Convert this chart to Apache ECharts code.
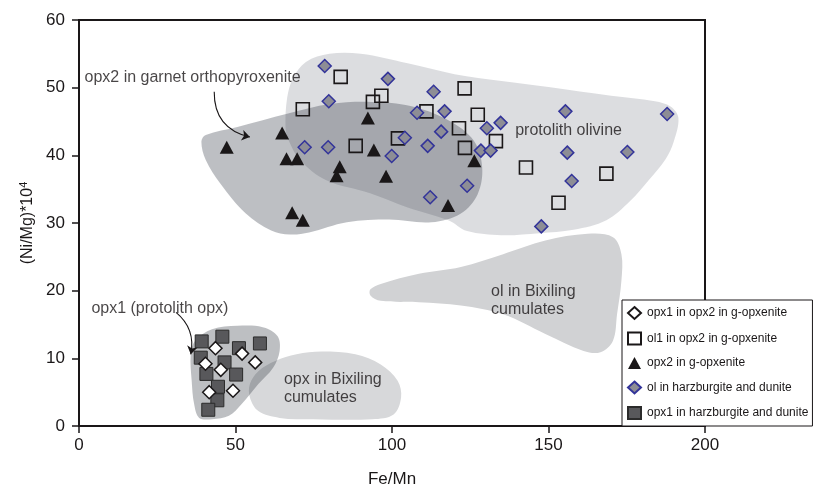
<!DOCTYPE html>
<html><head><meta charset="utf-8">
<script src="https://cdn.jsdelivr.net/npm/echarts@6/dist/echarts.min.js"></script>
<style>html,body{margin:0;padding:0;background:#fff}#c{width:814px;height:487px}</style>
</head><body><div id="c"></div>
<script>
// ---- data ----
const xTicks = [0, 50, 100, 150, 200];
const yTicks = [0, 10, 20, 30, 40, 50, 60];
const seriesNames = ['opx1 in opx2 in g-opxenite', 'ol1 in opx2 in g-opxenite', 'opx2 in g-opxenite', 'ol in harzburgite and dunite', 'opx1 in harzburgite and dunite'];

const opx1InOpx2 = [[43.6,11.5],[52.1,10.7],[40.4,9.2],[45.3,8.3],[56.3,9.4],[41.6,5.0],[49.2,5.2]];
const ol1InOpx2 = [[83.6,51.6],[71.5,46.8],[93.9,47.9],[96.6,48.8],[111.0,46.5],[123.2,49.9],[127.4,46.0],[121.4,44.0],[88.4,41.4],[101.9,42.5],[123.3,41.1],[133.2,42.1],[142.8,38.2],[168.5,37.3],[153.2,33.0]];
const opx2 = [[47.2,41.2],[64.9,43.3],[66.3,39.5],[69.7,39.5],[92.3,45.5],[94.2,40.8],[83.3,38.3],[82.3,37.0],[98.1,36.9],[68.1,31.5],[71.5,30.4],[117.9,32.6],[126.3,39.2]];
const olHarz = [[78.5,53.2],[98.7,51.3],[79.8,48.0],[113.3,49.4],[108.0,46.3],[116.8,46.5],[130.3,44.0],[134.7,44.8],[115.7,43.5],[104.1,42.6],[72.1,41.2],[79.6,41.2],[99.9,39.9],[111.4,41.4],[128.4,40.7],[131.5,40.7],[124.0,35.5],[112.2,33.8],[155.4,46.5],[156.0,40.4],[157.4,36.2],[175.2,40.5],[147.7,29.5],[187.9,46.1]];
const opx1Harz = [[39.2,12.5],[45.8,13.2],[51.1,11.5],[57.8,12.2],[38.9,10.1],[46.5,9.4],[40.7,7.7],[50.2,7.6],[44.4,5.8],[44.2,3.8],[41.3,2.4]];

// field outlines
const regionProtolithOl = [[66.0,44.0],[66.5,48.5],[68.5,51.5],[72.5,53.8],[80,55.0],[90,55.0],[105,53.6],[120,52.0],[135,51.0],[150,50.1],[170,48.8],[184,48.0],[189,47.2],[191.5,45.5],[190,42],[187.5,39.5],[182,36.3],[176,33.2],[168.5,30.4],[158,29.0],[147,28.5],[135,28.2],[124,28.8],[118,30.4],[105,32.3],[93,34.4],[79,36.3],[70.6,39.3],[67,42.2]];
const regionOpx2 = [[39.1,42.0],[40.5,43.0],[50.6,44.2],[66.8,46.2],[80.2,47.6],[93.7,47.9],[105.9,47.3],[118.0,45.2],[126.1,42.2],[128.8,38.3],[127.4,34.3],[122.0,31.4],[112.6,30.1],[99.1,30.5],[85.6,30.1],[73.5,28.6],[67.4,28.3],[61.4,28.9],[53.3,31.4],[45.2,35.8],[40.5,39.3]];
const regionOlBix = [[93.1,20.2],[96.4,21.0],[108.6,22.5],[122.0,23.5],[135.5,25.4],[149.0,27.4],[162.5,28.4],[170.6,27.9],[173.3,25.4],[173.3,21.5],[171.9,16.5],[170.6,12.6],[166.6,10.9],[161.2,11.1],[149.0,13.6],[135.5,16.5],[122.0,17.8],[108.6,18.3],[96.4,18.5],[93.1,19.3]];
const regionOpxBix = [[54.6,6.2],[57.3,8.1],[62.7,9.6],[69.5,10.6],[77.5,11.0],[88.3,10.6],[96.4,9.1],[101.8,6.7],[102.9,4.2],[100.5,1.7],[93.7,1.0],[74.8,1.0],[64.1,1.2],[57.3,2.2],[54.6,4.2]];
const regionOpx1 = [[37.1,12.6],[42.5,14.3],[50.6,14.8],[58.7,14.6],[63.4,13.3],[64.1,11.1],[62.0,8.6],[57.3,6.2],[51.9,3.2],[47.9,1.5],[42.5,1.0],[38.4,1.2],[36.8,3.2],[36.0,6.7],[35.7,10.6]];

// annotations
const labels = [[1.6,51.5,'opx2 in garnet orthopyroxenite'],[139.2,43.6,'protolith olivine'],[131.5,18.6,'ol in Bixiling\ncumulates'],[3.8,17.3,'opx1 (protolith opx)'],[65.3,5.6,'opx in Bixiling\ncumulates']];
const arrows = [[[43.2,49.4],[54.6,42.7]],[[31.0,16.8],[35.7,10.6]]];
const arrowCurve = [-0.4, 0.3];

// ---- chart ----
const FONT = "'Liberation Sans', Arial, Helvetica, sans-serif";
const INK = '#1a1718';
const chart = echarts.init(document.getElementById('c'), null, {renderer: 'canvas'});

function regionSeries(pts, fill) {
  return {
    type: 'custom', coordinateSystem: 'cartesian2d', silent: true, z: 1,
    data: pts, encode: {x: 0, y: 1},
    renderItem: function (params, api) {
      if (params.dataIndex !== 0) return null;
      const points = pts.map(p => api.coord(p));
      return {type: 'polygon', shape: {points: points, smooth: 0.35}, style: {fill: fill, stroke: null}};
    }
  };
}

function scatter(name, data, symbol, size, itemStyle) {
  return {
    type: 'scatter', name: name, data: data, symbol: symbol, symbolSize: size,
    itemStyle: Object.assign({opacity: 1}, itemStyle), z: 3, silent: true, emphasis: {disabled: true}
  };
}

chart.setOption({
  animation: false,
  textStyle: {fontFamily: FONT, color: INK},
  grid: {left: 79, right: 109, top: 20, bottom: 61, show: true, borderColor: INK, borderWidth: 2,
    backgroundColor: 'transparent', containLabel: false, outerBoundsMode: 'none'},
  xAxis: {
    type: 'value', min: xTicks[0], max: xTicks[xTicks.length - 1], interval: 50,
    name: 'Fe/Mn', nameLocation: 'middle', nameGap: 45,
    nameTextStyle: {fontSize: 17, color: INK, fontFamily: FONT},
    axisLine: {show: false},
    axisTick: {show: true, inside: false, length: 7, lineStyle: {color: INK, width: 1.5}},
    axisLabel: {fontSize: 17, color: INK, margin: 11, fontFamily: FONT, formatter: v => xTicks.includes(v) ? String(v) : ''},
    splitLine: {show: false}
  },
  yAxis: {
    type: 'value', min: yTicks[0], max: yTicks[yTicks.length - 1], interval: 10,
    name: '{a|(Ni/Mg)*10}{b|4}', nameLocation: 'middle', nameGap: 42, nameRotate: 90,
    nameTextStyle: {color: INK, fontFamily: FONT, rich: {
      a: {fontSize: 16, color: INK, fontFamily: FONT, lineHeight: 18},
      b: {fontSize: 11, color: INK, fontFamily: FONT, verticalAlign: 'top', lineHeight: 18}
    }},
    axisLine: {show: false},
    axisTick: {show: true, inside: false, length: 7, lineStyle: {color: INK, width: 1.5}},
    axisLabel: {fontSize: 17, color: INK, margin: 14, fontFamily: FONT, formatter: v => yTicks.includes(v) ? String(v) : ''},
    splitLine: {show: false}
  },
  legend: {
    orient: 'vertical', left: 622, top: 300,
    padding: [6, 4, 6, 5], itemGap: 11.5, itemWidth: 13, itemHeight: 12,
    backgroundColor: '#fff', borderColor: INK, borderWidth: 1, borderRadius: 0,
    textStyle: {fontSize: 12, color: INK, fontFamily: FONT, padding: [0, 0, 0, 1]},
    data: seriesNames, selectedMode: false, z: 10
  },
  series: [
    regionSeries(regionOlBix, '#d1d2d4'),
    regionSeries(regionOpxBix, '#d7d8da'),
    regionSeries(regionOpx1, 'rgba(38,42,52,0.3)'),
    regionSeries(regionProtolithOl, 'rgba(80,85,100,0.2)'),
    regionSeries(regionOpx2, 'rgba(38,42,55,0.3)'),
    {
      type: 'scatter', data: labels.map(l => ({value: [l[0], l[1]], name: l[2]})),
      symbol: 'circle', symbolSize: 1, silent: true, z: 4,
      itemStyle: {color: 'rgba(0,0,0,0)'},
      label: {show: true, position: 'right', distance: 0, fontSize: 16, lineHeight: 18, color: INK, fontFamily: FONT,
        formatter: '{b}'},
      labelLayout: {hideOverlap: false},
      emphasis: {disabled: true}
    },
    {
      type: 'lines', coordinateSystem: 'cartesian2d', silent: true, z: 4,
      symbol: ['none', 'arrow'], symbolSize: [0, 8],
      lineStyle: {color: INK, width: 1.1, opacity: 1},
      data: arrows.map((c, i) => ({coords: c, lineStyle: {curveness: arrowCurve[i]}}))
    },
    scatter(seriesNames[1], ol1InOpx2, 'rect', 13, {color: 'rgba(255,255,255,0)', borderColor: INK, borderWidth: 1.6}),
    scatter(seriesNames[2], opx2, 'triangle', [14, 13], {color: INK}),
    scatter(seriesNames[3], olHarz, 'diamond', 13, {color: '#8d8d95', borderColor: '#33349a', borderWidth: 1.5}),
    scatter(seriesNames[4], opx1Harz, 'rect', 13, {color: '#58585b', borderColor: '#2b2b2b', borderWidth: 1}),
    scatter(seriesNames[0], opx1InOpx2, 'diamond', 13, {color: '#fff', borderColor: INK, borderWidth: 1.5})
  ]
});
</script>
</body></html>
